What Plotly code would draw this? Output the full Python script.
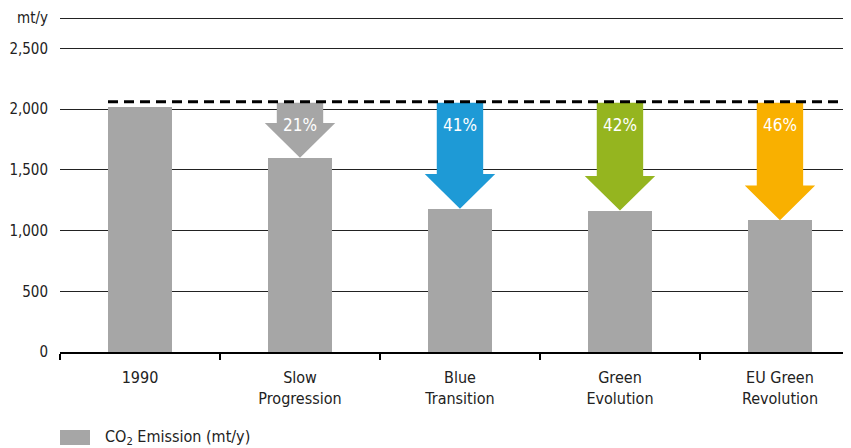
import plotly.graph_objects as go

# data
scenarios = ["1990", "Slow<br>Progression", "Blue<br>Transition", "Green<br>Evolution", "EU Green<br>Revolution"]
emissions = [2015, 1600, 1180, 1165, 1085]
reductions = [None, "21%", "41%", "42%", "46%"]
arrow_colors = [None, "#a6a6a6", "#1e9ad6", "#95b51f", "#f9b000"]
ref_level = 2060
y_ticks = [0, 500, 1000, 1500, 2000, 2500, 2750]
y_ticktext = ["0", "500", "1,000", "1,500", "2,000", "2,500", "mt/y"]

FONT = "Liberation Sans Narrow, DejaVu Sans Condensed, Arial Narrow, sans-serif"
BAR_GREY = "#a6a6a6"

xs = list(range(len(scenarios)))
bar_w = 0.4
shaft = 0.145   # half width of arrow shaft (category units)
head = 0.22     # half width of arrow head
head_h = 285    # arrow head height in mt/y

fig = go.Figure()
fig.add_trace(go.Bar(x=xs, y=emissions, width=bar_w, marker=dict(color=BAR_GREY, line_width=0),
                     name="CO<sub>2</sub> Emission (mt/y)", showlegend=False))

for x, v, txt, col in zip(xs, emissions, reductions, arrow_colors):
    if txt is None:
        continue
    top = ref_level - 8
    neck = v + head_h
    px_ = [x - shaft, x + shaft, x + shaft, x + head, x, x - head, x - shaft, x - shaft]
    py_ = [top, top, neck, neck, v, neck, neck, top]
    fig.add_trace(go.Scatter(x=px_, y=py_, fill="toself", fillcolor=col, mode="lines",
                             line=dict(width=0, color=col), showlegend=False, hoverinfo="skip"))
    fig.add_annotation(x=x, y=ref_level - 190, text=txt, showarrow=False,
                       font=dict(family=FONT, size=17, color="white"))

# dashed 1990 reference line
fig.add_shape(type="line", x0=-bar_w / 2, x1=4.6, y0=ref_level, y1=ref_level,
              line=dict(color="black", width=3, dash="10px,6px"), layer="above")

# legend drawn by hand
fig.add_shape(type="rect", xref="paper", yref="paper", x0=0, x1=30 / 791, y0=-0.2308, y1=-0.2751,
              fillcolor=BAR_GREY, line_width=0)
fig.add_annotation(xref="paper", yref="paper", x=43 / 791, y=-0.253, xanchor="left", yanchor="middle",
                   text="CO<sub>2</sub> Emission (mt/y)", showarrow=False,
                   font=dict(family=FONT, size=16, color="#222"))

# page body has an 8px margin, so the figure is 8px smaller each way
fig.update_layout(
    width=843, height=440,
    margin=dict(l=52, r=0, t=6, b=96),
    plot_bgcolor="white", paper_bgcolor="white",
    font=dict(family=FONT, size=16, color="#222"),
    bargap=0,
    xaxis=dict(range=[-0.5, 4.444], tickvals=xs, ticktext=scenarios, ticks="outside", ticklen=10,
               tickcolor="rgba(0,0,0,0)", showgrid=False, zeroline=False, automargin=False,
               showline=True, linecolor="black", linewidth=1.5,
               minor=dict(tickvals=[-0.5, 0.5, 1.5, 2.5, 3.5, 4.5], ticks="outside", ticklen=6,
                          tickcolor="black", tickwidth=1.5, showgrid=False)),
    yaxis=dict(range=[0, 2783], tickvals=y_ticks, ticktext=y_ticktext, showgrid=True,
               gridcolor="#222", gridwidth=1.3, zeroline=False, showline=False, automargin=False,
               tickfont=dict(size=15), ticks="outside", ticklen=8, tickcolor="rgba(0,0,0,0)"),
)

fig.write_html("out.html")
